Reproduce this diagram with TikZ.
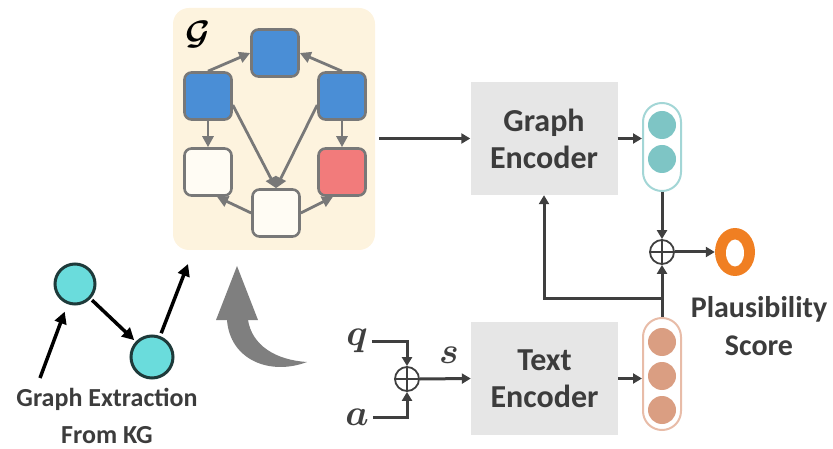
\documentclass[tikz,border=0pt]{standalone}
\usepackage{fix-cm}
\usepackage{fontspec}
\setmainfont{Carlito}
\usepackage{bm}
\usetikzlibrary{arrows.meta,calc,shapes.geometric}

\definecolor{panel}{HTML}{FDF3DE}
\definecolor{nodeblue}{HTML}{4A8ED6}
\definecolor{nodered}{HTML}{F27B7B}
\definecolor{nodewhite}{HTML}{FFFCF4}
\definecolor{edgegray}{HTML}{787878}
\definecolor{darkline}{HTML}{3F3F3F}
\definecolor{txt}{HTML}{3C3C3C}
\definecolor{encgray}{HTML}{E6E6E6}
\definecolor{tealline}{HTML}{A3D6D6}
\definecolor{tealfill}{HTML}{7EC5C5}
\definecolor{salmonline}{HTML}{E8BCA8}
\definecolor{salmonfill}{HTML}{DA9E82}
\definecolor{scoreorange}{HTML}{F07F22}
\definecolor{cyanfill}{HTML}{6ADCDC}
\definecolor{darkteal}{HTML}{1E3A3A}
\definecolor{bigarrow}{HTML}{7F7F7F}

\begin{document}
\begin{tikzpicture}[x=1pt,y=-1pt,
  gnode/.style={draw=edgegray, line width=2.6pt, rounded corners=7pt,
                minimum size=47pt, inner sep=0pt},
  bluebox/.style={gnode, fill=nodeblue},
  redbox/.style={gnode, fill=nodered},
  whitebox/.style={gnode, fill=nodewhite},
  gedge/.style={draw=edgegray, line width=2.8pt,
                -{Triangle[length=11pt,width=11pt]}},
  flow/.style={draw=darkline, line width=3pt,
               -{Triangle[length=9pt,width=10pt]}},
  extract/.style={draw=black, line width=3.5pt,
                  -{Triangle[length=12pt,width=12pt]}},
  encoder/.style={fill=encgray, minimum width=147pt, minimum height=113pt,
                  inner sep=0pt, align=center, text=txt,
                  font=\fontsize{32}{37}\selectfont\bfseries},
  oplus/.style={circle, draw=darkline, line width=1.8pt, minimum size=24pt,
                inner sep=0pt},
  kgnode/.style={circle, draw=darkteal, line width=3pt, fill=cyanfill,
                 inner sep=0pt},
  mathlbl/.style={inner sep=0pt, text=darkline,
                  font=\fontsize{37}{37}\selectfont},
]
\useasboundingbox (0,0) rectangle (833,449);

% graph panel
\node[fill=panel, rounded corners=16pt, minimum width=202pt,
      minimum height=242pt, inner sep=0pt] (gbox) at (274,129) {};
\node[inner sep=0pt, text=black, font=\fontsize{34}{34}\selectfont]
  (glabel) at (198,34) {$\bm{\mathcal{G}}$};

\node[bluebox]  (top) at (275,53) {};
\node[bluebox]  (lu)  at (208,96) {};
\node[bluebox]  (ru)  at (342,96) {};
\node[whitebox] (ll)  at (208,172) {};
\node[redbox]   (rl)  at (342,172) {};
\node[whitebox] (bt)  at (276,213) {};

\draw[gedge] (lu.north) -- (top.west);
\draw[gedge] (ru.north) -- (top.east);
\draw[gedge] (lu.south) -- (ll.north);
\draw[gedge] (ru.south) -- (rl.north);
\draw[gedge] (lu.-20) -- (bt.north);
\draw[gedge] (ru.200) -- (bt.north);
\draw[gedge] (bt.west) -- (ll.-70);
\draw[gedge] (bt.east) -- (rl.-110);

% extraction from the knowledge graph
\node[kgnode, minimum size=40pt] (k1) at (75,284) {};
\node[kgnode, minimum size=42pt] (k2) at (152,357) {};
\coordinate (e0) at (40,378);
\coordinate (e1) at (188,264);
\draw[extract, shorten >=8pt] (e0) -- (k1);
\draw[extract, shorten <=2pt, shorten >=2pt] (k1) -- (k2);
\draw[extract, shorten <=3pt] (k2) -- (e1);
\node[align=center, text=txt, font=\fontsize{26}{37}\selectfont\bfseries]
  (extr) at (107,416) {Graph Extraction\\From KG};

% curved arrow into the panel
\fill[bigarrow] (237,266) -- (258,320) -- (248,320)
  .. controls (252,345) and (275,360) .. (307,362)
  .. controls (270,376) and (230,360) .. (227,320)
  -- (216,320) -- cycle;

% encoders
\node[encoder] (genc) at (544,138.5) {Graph\\Encoder};
\node[encoder] (tenc) at (544.5,378.5) {Text\\Encoder};

% graph vector
\node[draw=tealline, line width=2pt, fill=white, rounded corners=18.9pt,
      minimum width=38pt, minimum height=88pt, inner sep=0pt]
  (tpill) at (662,147) {};
\fill[tealfill] (662,125) circle (14pt);
\fill[tealfill] (662,159) circle (14pt);

% text vector
\node[draw=salmonline, line width=2pt, fill=white, rounded corners=18.9pt,
      minimum width=38pt, minimum height=112pt, inner sep=0pt]
  (spill) at (662,374) {};
\fill[salmonfill] (662,342) circle (14pt);
\fill[salmonfill] (662,376) circle (14pt);
\fill[salmonfill] (662,410) circle (14pt);

% combination and score
\node[oplus] (op2) at (662,252) {};
\draw[darkline, line width=1.8pt] (op2.north) -- (op2.south)
  (op2.west) -- (op2.east);
\node[ellipse, fill=scoreorange, minimum width=40pt, minimum height=48pt,
      inner sep=0pt] (score) at (735,252) {};
\node[ellipse, fill=white, minimum width=18pt, minimum height=27pt,
      inner sep=0pt] (hole) at (735,253) {};
\node[align=center, text=txt, font=\fontsize{30}{38}\selectfont\bfseries]
  (plaus) at (759,326) {Plausibility\\Score};

% inputs q and a
\node[mathlbl] (q) at (357,341) {$\bm{q}$};
\node[mathlbl] (a) at (357,417) {$\bm{a}$};
\node[mathlbl] (s) at (449,355) {$\bm{s}$};
\node[oplus] (op1) at (407,379) {};
\draw[darkline, line width=1.8pt] (op1.north) -- (op1.south)
  (op1.west) -- (op1.east);

% connectors
\coordinate (gout) at (379,138.5);
\coordinate (br) at (662,298);
\draw[flow] (gout) -- (genc.west);
\draw[flow] (genc.east) -- (genc.east -| tpill.west);
\draw[flow] (tpill.south) -- (op2.north);
\draw[flow] (op2.east) -- (score.west);
\draw[flow] (spill.north) -- (op2.south);
\draw[flow] (br) -| (genc.south);
\draw[flow] (tenc.east) -- (tenc.east -| spill.west);
\draw[flow, shorten <=4pt] (q.east) -| (op1.north);
\draw[flow, shorten <=4pt] (a.east) -| (op1.south);
\draw[flow] (op1.east) -- (tenc.west);
\end{tikzpicture}
\end{document}
